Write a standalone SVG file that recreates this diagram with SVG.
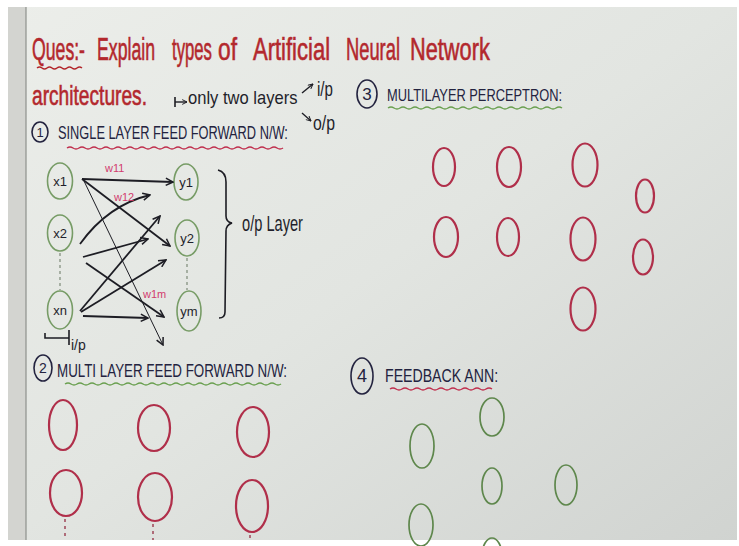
<svg xmlns="http://www.w3.org/2000/svg" width="739" height="546" viewBox="0 0 739 546">
<defs>
<linearGradient id="paper" x1="0" y1="0" x2="1" y2="1">
<stop offset="0" stop-color="#eceeea"/>
<stop offset="0.5" stop-color="#e2e5e1"/>
<stop offset="1" stop-color="#d0d3d0"/>
</linearGradient>
<marker id="ah" viewBox="0 0 10 10" refX="9" refY="5" markerWidth="9" markerHeight="9" markerUnits="userSpaceOnUse" orient="auto">
<path d="M1,1 L9,5 L1,9" fill="none" stroke="#1d1d24" stroke-width="1.7"/>
</marker>
<marker id="ahs" viewBox="0 0 10 10" refX="9" refY="5" markerWidth="6" markerHeight="6" markerUnits="userSpaceOnUse" orient="auto">
<path d="M1,1 L9,5 L1,9" fill="none" stroke="#1d1d24" stroke-width="1.6"/>
</marker>
<style>
.red{fill:#b3282d;stroke:#b3282d;stroke-width:0.6;font-family:"Liberation Sans",sans-serif}
.ink{fill:#1f1f2b;font-family:"Liberation Sans",sans-serif}
.head{fill:#23233f;font-family:"Liberation Sans",sans-serif}
.pink{fill:#d23c6e;font-family:"Liberation Sans",sans-serif;font-size:11px}
.node{fill:#1f1f2b;font-family:"Liberation Sans",sans-serif;font-size:13px;text-anchor:middle}
.rc{fill:none;stroke:#b02f4a;stroke-width:2.2}
.gc{fill:none;stroke:#5e874c;stroke-width:1.7}
.gn{fill:none;stroke:#779c66;stroke-width:1.6}
.num{fill:none;stroke:#23233f;stroke-width:1.6}
.arr{fill:none;stroke:#1d1d24;stroke-width:1.8;marker-end:url(#ah)}
.thin{fill:none;stroke:#1d1d24;stroke-width:1;marker-end:url(#ah)}
.sm{fill:none;stroke:#1d1d24;stroke-width:1.4;marker-end:url(#ahs)}
.line{fill:none;stroke:#1d1d24;stroke-width:1.6}
.wav{fill:none;stroke-width:1.5}
.dash{stroke:#7d8a78;stroke-width:1.2;stroke-dasharray:3 3}
.rdash{stroke:#9a3a4e;stroke-width:1.4;stroke-dasharray:3 4}
</style>
</defs>

<rect x="0" y="0" width="739" height="546" fill="url(#paper)"/>
<rect x="0" y="0" width="739" height="7" fill="#ffffff"/>
<rect x="0" y="0" width="8" height="546" fill="#ffffff"/>
<rect x="8" y="7" width="18" height="533" fill="#d3d4d0"/>
<line x1="26" y1="7" x2="26" y2="540" stroke="#8e908c" stroke-width="1.2"/>
<rect x="737" y="0" width="2" height="546" fill="#ffffff"/>
<rect x="0" y="540" width="739" height="6" fill="#ffffff"/>

<g id="title">
<text class="red" transform="translate(32,60) scale(0.57,1)" font-size="31" textLength="93" lengthAdjust="spacingAndGlyphs">Ques:-</text>
<text class="red" transform="translate(97,60) scale(0.571,1)" font-size="31" textLength="101.6" lengthAdjust="spacingAndGlyphs">Explain</text>
<text class="red" transform="translate(172,60) scale(0.54,1)" font-size="31" textLength="74" lengthAdjust="spacingAndGlyphs">types</text>
<text class="red" transform="translate(218,60) scale(0.73,1)" font-size="31" textLength="26" lengthAdjust="spacingAndGlyphs">of</text>
<text class="red" transform="translate(253,60) scale(0.71,1)" font-size="31" textLength="108.5" lengthAdjust="spacingAndGlyphs">Artificial</text>
<text class="red" transform="translate(346,60) scale(0.59,1)" font-size="31" textLength="91.5" lengthAdjust="spacingAndGlyphs">Neural</text>
<text class="red" transform="translate(410,60) scale(0.70,1)" font-size="31" textLength="114" lengthAdjust="spacingAndGlyphs">Network</text>
<text class="red" transform="translate(32,105) scale(0.71,1)" font-size="27" textLength="162" lengthAdjust="spacingAndGlyphs">architectures.</text>
<path class="wav" stroke="#b3282d" d="M37,68 q2.5,-2 5,0 t5,0 t5,0 t5,0 t5,0 t5,0 t5,0 t5,0 t5,0"/>
</g>

<g id="note">
<path class="line" d="M175,97 V107"/>
<path class="sm" d="M175,102 H187"/>
<text class="ink" transform="translate(188,104) scale(0.92,1)" font-size="18" textLength="119" lengthAdjust="spacingAndGlyphs">only two layers</text>
<path class="sm" d="M302,93 L313,84"/>
<text class="ink" transform="translate(317,96) scale(0.76,1)" font-size="20" textLength="21" lengthAdjust="spacingAndGlyphs">i/p</text>
<path class="sm" d="M302,113 L311,121"/>
<text class="ink" transform="translate(313,130) scale(0.79,1)" font-size="20" textLength="27.8" lengthAdjust="spacingAndGlyphs">o/p</text>
</g>

<g id="heading-1">
<ellipse class="num" cx="40" cy="132" rx="8" ry="10"/>
<text class="head" x="40" y="137" font-size="13" text-anchor="middle">1</text>
<text class="head" transform="translate(58,139) scale(0.705,1)" font-size="18" textLength="326" lengthAdjust="spacingAndGlyphs">SINGLE LAYER FEED FORWARD N/W:</text>
<path class="wav" stroke="#c0304e" d="M67,148 q3,-2 6,0 t6,0 t6,0 t6,0 t6,0 t6,0 t6,0 t6,0 t6,0 t6,0 t6,0 t6,0 t6,0 t6,0 t6,0 t6,0 t6,0 t6,0 t6,0 t6,0 t6,0 t6,0 t6,0 t6,0 t6,0 t6,0 t6,0 t6,0 t6,0 t6,0 t6,0 t6,0 t6,0 t6,0 t6,0 t6,0"/>
</g>

<g id="heading-3">
<ellipse class="num" cx="367" cy="94" rx="10" ry="14"/>
<text class="head" x="367" y="100" font-size="17" text-anchor="middle">3</text>
<text class="head" transform="translate(387,101) scale(0.748,1)" font-size="17" textLength="234" lengthAdjust="spacingAndGlyphs">MULTILAYER PERCEPTRON:</text>
<path class="wav" stroke="#6aa050" d="M388,108 q3,-2 6,0 t6,0 t6,0 t6,0 t6,0 t6,0 t6,0 t6,0 t6,0 t6,0 t6,0 t6,0 t6,0 t6,0 t6,0 t6,0 t6,0 t6,0 t6,0 t6,0 t6,0 t6,0 t6,0 t6,0 t6,0 t6,0 t6,0 t6,0 t6,0"/>
</g>

<g id="node-x1"><ellipse class="gn" cx="60" cy="181" rx="12.5" ry="18"/><text class="node" x="60" y="186">x1</text></g>
<g id="node-x2"><ellipse class="gn" cx="60" cy="233" rx="12.5" ry="18"/><text class="node" x="60" y="238">x2</text></g>
<g id="node-xn"><ellipse class="gn" cx="60" cy="310" rx="12.5" ry="19"/><text class="node" x="60" y="315">xn</text></g>
<g id="node-y1"><ellipse class="gn" cx="186" cy="182" rx="12" ry="18"/><text class="node" x="186" y="187">y1</text></g>
<g id="node-y2"><ellipse class="gn" cx="187" cy="238" rx="12" ry="18"/><text class="node" x="187" y="243">y2</text></g>
<g id="node-ym"><ellipse class="gn" cx="189" cy="311" rx="12" ry="20"/><text class="node" x="189" y="316">ym</text></g>

<g id="connectors">
<line class="dash" x1="60" y1="253" x2="60" y2="290"/>
<line class="dash" x1="187" y1="258" x2="187" y2="290"/>
<path class="arr" d="M82,179 L173,182"/>
<path class="arr" d="M82,179 L170,246"/>
<path class="thin" d="M84,181 L163,345"/>
<path class="arr" d="M80,244 Q108,205 150,195"/>
<path class="arr" d="M83,257 L148,239"/>
<path class="arr" d="M86,263 L164,317"/>
<path class="arr" d="M80,311 L160,216"/>
<path class="arr" d="M81,312 L166,260"/>
<path class="arr" d="M83,316 L148,318"/>
<text class="pink" x="105" y="172">w11</text>
<text class="pink" x="114" y="201">w12</text>
<text class="pink" x="143" y="298">w1m</text>
</g>

<g id="output-brace">
<path class="line" d="M218,170 Q226,172 226,182 L226,216 Q226,222 232,223 Q226,225 226,231 L225,312 Q225,318 219,318"/>
<text class="ink" transform="translate(242,231) scale(0.665,1)" font-size="22" textLength="91.7" lengthAdjust="spacingAndGlyphs">o/p Layer</text>
</g>

<g id="input-label">
<path class="line" d="M45,333 V338 H69 M69,330 V345"/>
<text class="ink" x="71" y="350" font-size="14">i/p</text>
</g>

<g id="heading-2">
<ellipse class="num" cx="43" cy="368" rx="9" ry="13"/>
<text class="head" x="43" y="373" font-size="14" text-anchor="middle">2</text>
<text class="head" transform="translate(57,377) scale(0.694,1)" font-size="19" textLength="331.5" lengthAdjust="spacingAndGlyphs">MULTI LAYER FEED FORWARD N/W:</text>
<path class="wav" stroke="#6aa050" d="M65,384 q3,-2 6,0 t6,0 t6,0 t6,0 t6,0 t6,0 t6,0 t6,0 t6,0 t6,0 t6,0 t6,0 t6,0 t6,0 t6,0 t6,0 t6,0 t6,0 t6,0 t6,0 t6,0 t6,0 t6,0 t6,0 t6,0 t6,0 t6,0 t6,0 t6,0 t6,0 t6,0 t6,0 t6,0 t6,0 t6,0 t6,0"/>
</g>

<g id="mlff-nodes">
<ellipse class="rc" cx="63" cy="425" rx="14" ry="25"/>
<ellipse class="rc" cx="154" cy="428" rx="16" ry="23"/>
<ellipse class="rc" cx="253" cy="432" rx="16" ry="25"/>
<ellipse class="rc" cx="66" cy="493" rx="16" ry="23"/>
<ellipse class="rc" cx="155" cy="497" rx="17" ry="24"/>
<ellipse class="rc" cx="252" cy="506" rx="16" ry="26"/>
<line class="rdash" x1="65" y1="519" x2="65" y2="540"/>
<line class="rdash" x1="153" y1="524" x2="153" y2="540"/>
<line class="rdash" x1="250" y1="535" x2="250" y2="540"/>
</g>

<g id="mlp-nodes">
<ellipse class="rc" cx="444" cy="167" rx="11" ry="19"/>
<ellipse class="rc" cx="509" cy="167" rx="12" ry="20"/>
<ellipse class="rc" cx="585" cy="165" rx="12.5" ry="21.5"/>
<ellipse class="rc" cx="645" cy="196" rx="9" ry="16.5"/>
<ellipse class="rc" cx="446" cy="237" rx="12" ry="20"/>
<ellipse class="rc" cx="508" cy="237" rx="11" ry="19"/>
<ellipse class="rc" cx="583" cy="239" rx="12.5" ry="21.5"/>
<ellipse class="rc" cx="643" cy="257" rx="10" ry="17.5"/>
<ellipse class="rc" cx="583" cy="309" rx="12.5" ry="21.5"/>
</g>

<g id="heading-4">
<ellipse class="num" cx="362" cy="376" rx="11" ry="18"/>
<text class="head" x="362" y="382" font-size="18" text-anchor="middle">4</text>
<text class="head" transform="translate(385,382) scale(0.78,1)" font-size="18" textLength="145" lengthAdjust="spacingAndGlyphs">FEEDBACK ANN:</text>
<path class="wav" stroke="#c0304e" d="M390,389 q3,-2 6,0 t6,0 t6,0 t6,0 t6,0 t6,0 t6,0 t6,0 t6,0 t6,0 t6,0 t6,0 t6,0 t6,0 t6,0 t6,0 t6,0"/>
</g>

<g id="feedback-nodes">
<ellipse class="gc" cx="492" cy="417" rx="12" ry="19"/>
<ellipse class="gc" cx="422" cy="446" rx="12" ry="22"/>
<ellipse class="gc" cx="492" cy="486" rx="10" ry="18"/>
<ellipse class="gc" cx="566" cy="485" rx="11" ry="20"/>
<ellipse class="gc" cx="421" cy="525" rx="12" ry="21"/>
<ellipse class="gc" cx="492" cy="556" rx="10" ry="18"/>
</g>
</svg>
